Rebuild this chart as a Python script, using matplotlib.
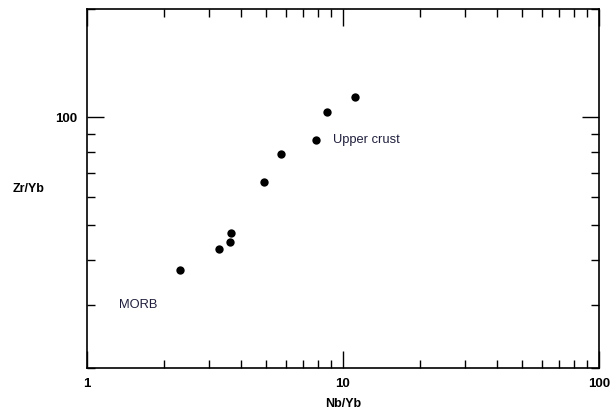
import matplotlib.pyplot as plt
from matplotlib.ticker import LogLocator, NullFormatter, FixedLocator, FixedFormatter

plt.rcParams['font.family'] = ['Liberation Sans', 'DejaVu Sans']

# Nb/Yb vs Zr/Yb sample ratios
nb_yb = [2.31, 3.28, 3.62, 3.66, 4.93, 5.71, 7.81, 8.68, 11.1]
zr_yb = [37.4, 42.9, 44.8, 47.5, 65.9, 79.0, 86.7, 103.3, 114.2]

# reference compositions labelled on the diagram
ref_names = ['MORB', 'Upper crust']
ref_x = [1.335, 9.15]
ref_y = [29.9, 86.7]

x_ticks = [1, 10, 100]
x_ticklabels = ['1', '10', '100']
y_ticks = [100]
y_ticklabels = ['100']

fig = plt.figure(figsize=(6.16, 4.12), dpi=100)
ax = fig.add_axes([0.1412, 0.1068, 0.8312, 0.8706])

ax.plot(nb_yb, zr_yb, 'o', color='black', markersize=6, markeredgewidth=0)

for name, x, y in zip(ref_names, ref_x, ref_y):
    ax.text(x, y, name, fontsize=9.3, color='#1f1f3d', ha='left', va='center')

ax.set_xscale('log')
ax.set_yscale('log')
ax.set_xlim(1, 100)
ax.set_ylim(20, 200)

ax.xaxis.set_major_locator(FixedLocator(x_ticks))
ax.xaxis.set_major_formatter(FixedFormatter(x_ticklabels))
ax.yaxis.set_major_locator(FixedLocator(y_ticks))
ax.yaxis.set_major_formatter(FixedFormatter(y_ticklabels))
ax.xaxis.set_minor_locator(LogLocator(base=10, subs=range(2, 10)))
ax.yaxis.set_minor_locator(LogLocator(base=10, subs=range(2, 10)))
ax.xaxis.set_minor_formatter(NullFormatter())
ax.yaxis.set_minor_formatter(NullFormatter())

ax.tick_params(which='both', direction='in', top=True, right=True, width=1, color='black')
ax.tick_params(which='major', length=12.5, pad=7)
ax.tick_params(which='minor', length=5.5)
for lab in ax.get_xticklabels() + ax.get_yticklabels():
    lab.set_fontweight('bold')
    lab.set_fontsize(9.5)

for sp in ax.spines.values():
    sp.set_linewidth(1.2)

ax.set_xlabel('Nb/Yb', fontsize=9, fontweight='bold')
ax.xaxis.set_label_coords(0.5, -0.085)
ax.set_ylabel('Zr/Yb', fontsize=9, fontweight='bold', rotation=0, ha='center', va='center')
ax.yaxis.set_label_coords(-0.114, 0.5)

fig.savefig('out.png', dpi=100)
